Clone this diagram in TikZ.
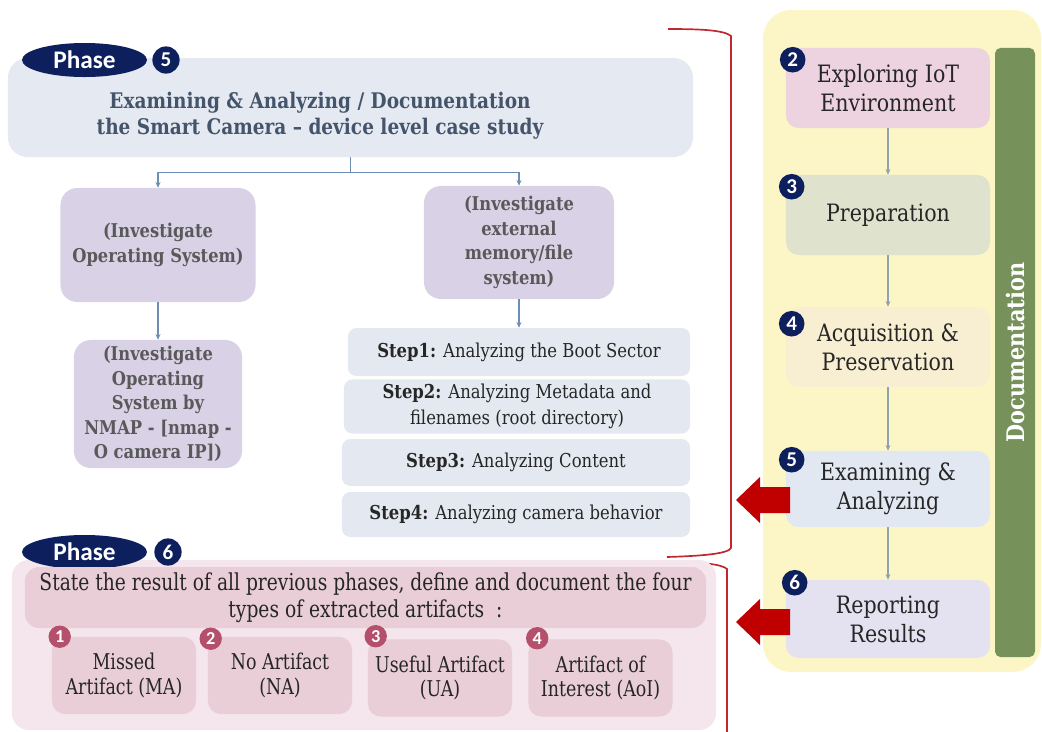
\documentclass[tikz,border=0pt]{standalone}
\usepackage{fontspec}
\setmainfont{DejaVu Serif}[FakeStretch=0.86]
\newfontfamily\condserif{DejaVu Serif}[FakeStretch=0.8]
\newfontfamily\labelsans{Carlito}
\usetikzlibrary{arrows.meta,shapes.geometric}
\definecolor{phaseNavy}{HTML}{0D1F5C}
\definecolor{headBlue}{HTML}{E5EAF2}
\definecolor{headText}{HTML}{44546A}
\definecolor{stepBlue}{HTML}{E4E9F1}
\definecolor{taskLilac}{HTML}{D9D1E6}
\definecolor{taskText}{HTML}{595959}
\definecolor{lineBlue}{HTML}{6D8DB5}
\definecolor{lineGrey}{HTML}{8EA3AE}
\definecolor{panelYellow}{HTML}{FCF6C6}
\definecolor{docGreen}{HTML}{76915A}
\definecolor{stagePink}{HTML}{EDD3DF}
\definecolor{stageGreen}{HTML}{DFE3CD}
\definecolor{stageBeige}{HTML}{F8EFD3}
\definecolor{stageBlue}{HTML}{E2E8F2}
\definecolor{stageLilac}{HTML}{E4E1F0}
\definecolor{arrowRed}{HTML}{C00000}
\definecolor{braceRed}{HTML}{C0282D}
\definecolor{resultPink}{HTML}{F4E6EC}
\definecolor{cardPink}{HTML}{E9CED8}
\definecolor{roseBadge}{HTML}{B4506B}
\definecolor{darkText}{HTML}{262626}

\begin{document}
\begin{tikzpicture}[x=0.025cm,y=-0.025cm,
  phasetag/.style={ellipse,fill=phaseNavy,text=white,minimum width=3.125cm,minimum height=0.85cm,inner sep=0pt,font=\labelsans\bfseries\fontsize{18}{18}\selectfont},
  badge/.style={circle,fill=phaseNavy,text=white,inner sep=0pt,minimum size=0.64cm,font=\labelsans\bfseries\fontsize{15}{15}\selectfont},
  rosebadge/.style={badge,fill=roseBadge,minimum size=0.56cm,font=\labelsans\bfseries\fontsize{13}{13}\selectfont},
  taskbox/.style={fill=taskLilac,rounded corners=12pt,align=center,text=taskText,font=\bfseries\fontsize{13.5}{17.5}\selectfont},
  stepbox/.style={fill=stepBlue,rounded corners=6pt,align=center,text=darkText,minimum width=8.65cm,font=\fontsize{13.6}{18.4}\selectfont},
  stagebox/.style={rounded corners=9pt,align=center,text=darkText,minimum width=5.1cm,minimum height=2cm,font=\fontsize{17}{20.5}\selectfont},
  cardbox/.style={fill=cardPink,rounded corners=9pt,align=center,text=darkText,minimum width=3.6cm,minimum height=1.925cm,font=\condserif\fontsize{15.5}{17.5}\selectfont},
  conn/.style={draw=lineBlue,thick,-{Stealth[length=4pt,width=3.5pt]}},
  stageconn/.style={draw=lineGrey,thick,-{Stealth[length=4pt,width=3.5pt]}},
  brace/.style={draw=braceRed,line width=1.2pt}]
\useasboundingbox (0,0) rectangle (1042,732);

% right column: process stages
\fill[panelYellow,rounded corners=20pt] (763,10) rectangle (1041,672);
\node[fill=docGreen,rounded corners=4pt,rotate=90,minimum width=15.225cm,minimum height=1cm,text=white,font=\bfseries\fontsize{17.2}{17.2}\selectfont] (docbar) at (1015,352.5) {Documentation};

\node[stagebox,fill=stagePink] (explore) at (888,88) {Exploring IoT\\Environment};
\node[stagebox,fill=stageGreen] (prep) at (888,215) {Preparation};
\node[stagebox,fill=stageBeige] (acq) at (888,347) {Acquisition \&\\Preservation};
\node[stagebox,fill=stageBlue,minimum height=1.9cm] (exam) at (888,489) {Examining \&\\Analyzing};
\node[stagebox,fill=stageLilac,minimum height=1.95cm] (report) at (888,619) {Reporting\\Results};
\foreach \a/\b in {explore/prep,prep/acq,acq/exam,exam/report}
  \draw[stageconn] (\a) -- (\b);

\node[badge] (b2) at ([shift={(7,12)}]explore.north west) {2};
\node[badge] (b3) at ([shift={(6,12)}]prep.north west) {3};
\node[badge] (b4) at ([shift={(6,17)}]acq.north west) {4};
\node[badge] (b5) at ([shift={(6,9)}]exam.north west) {5};
\node[badge] (b6) at ([shift={(9,3)}]report.north west) {6};

% red block arrows
\fill[arrowRed] (790,487) -- (760,487) -- (760,477) -- (736,500) -- (760,523) -- (760,513) -- (790,513) -- cycle;
\fill[arrowRed] (790,609) -- (760,609) -- (760,599) -- (736,622) -- (760,645) -- (760,635) -- (790,635) -- cycle;

% braces
\draw[brace] (668,29) .. controls (700,29) and (724,30) .. (731,36) -- (731,548) .. controls (728,554) and (700,556) .. (667,557);
\draw[brace] (667,562) .. controls (700,562) and (722,564) .. (727,569) -- (727,740);

% phase 5
\node[fill=headBlue,rounded corners=14pt,minimum width=17.125cm,minimum height=2.475cm] (exambox) at (350.5,107.5) {};
\node[align=center,text=headText,font=\bfseries\fontsize{15.3}{18.5}\selectfont] (examtext) at (320,116) {Examining \& Analyzing / Documentation\\the Smart Camera -- device level case study};
\node[phasetag] (phase5) at (84.5,60) {Phase};
\node[badge,minimum size=0.68cm] (p5) at (166,60) {5};

\node[taskbox,minimum width=4.875cm,minimum height=2.85cm] (osbox) at (158,245) {(Investigate\\Operating System)};
\node[taskbox,minimum width=4.75cm,minimum height=2.825cm] (extbox) at (519,242.5) {(Investigate\\external\\memory/file\\system)};
\node[taskbox,minimum width=4.2cm,minimum height=3.2cm] (nmapbox) at (158,404) {(Investigate\\Operating\\System by\\NMAP - [nmap -\\O camera IP])};
\draw[conn] (exambox.south) -- ++(0,15) -| (osbox.north);
\draw[conn] (exambox.south) -- ++(0,15) -| (extbox.north);
\draw[conn] (osbox) -- (nmapbox);

\node[stepbox,minimum width=8.55cm,minimum height=1.2cm] (step1) at (519,352) {\textbf{Step1:} Analyzing the Boot Sector};
\node[stepbox,minimum height=1.175cm] (step2) at (517,406.5) {\textbf{Step2:} Analyzing Metadata and\\filenames (root directory)};
\node[stepbox,minimum width=8.7cm,minimum height=1.175cm] (step3) at (516,462.5) {\textbf{Step3:} Analyzing Content};
\node[stepbox,minimum width=8.7cm,minimum height=1.125cm] (step4) at (516,514.5) {\textbf{Step4:} Analyzing camera behavior};
\draw[conn] (extbox) -- (step1);

% phase 6
\node[fill=resultPink,rounded corners=12pt,minimum width=17.6cm,minimum height=4.25cm] (resultarea) at (364,645) {};
\node[phasetag] (phase6) at (84.5,552) {Phase};
\node[badge,minimum size=0.68cm] (p6) at (168,552) {6};
\node[fill=cardPink,rounded corners=10pt,minimum width=17.025cm,minimum height=1.525cm,align=center,text=darkText,font=\condserif\fontsize{16.6}{19.5}\selectfont] (statebox) at (365.5,597.5) {State the result of all previous phases, define and document the four\\types of extracted artifacts~~:};

\node[cardbox] (ma) at (124,675.5) {Missed\\Artifact (MA)};
\node[cardbox] (na) at (280,675.5) {No Artifact\\(NA)};
\node[cardbox] (ua) at (440,678) {Useful Artifact\\(UA)};
\node[cardbox] (aoi) at (600.5,678) {Artifact of\\Interest (AoI)};
\node[rosebadge] (r1) at ([shift={(8,0)}]ma.north west) {1};
\node[rosebadge] (r2) at ([shift={(3,2)}]na.north west) {2};
\node[rosebadge] (r3) at ([shift={(8,-3)}]ua.north west) {3};
\node[rosebadge] (r4) at ([shift={(9,-1)}]aoi.north west) {4};
\end{tikzpicture}
\end{document}
